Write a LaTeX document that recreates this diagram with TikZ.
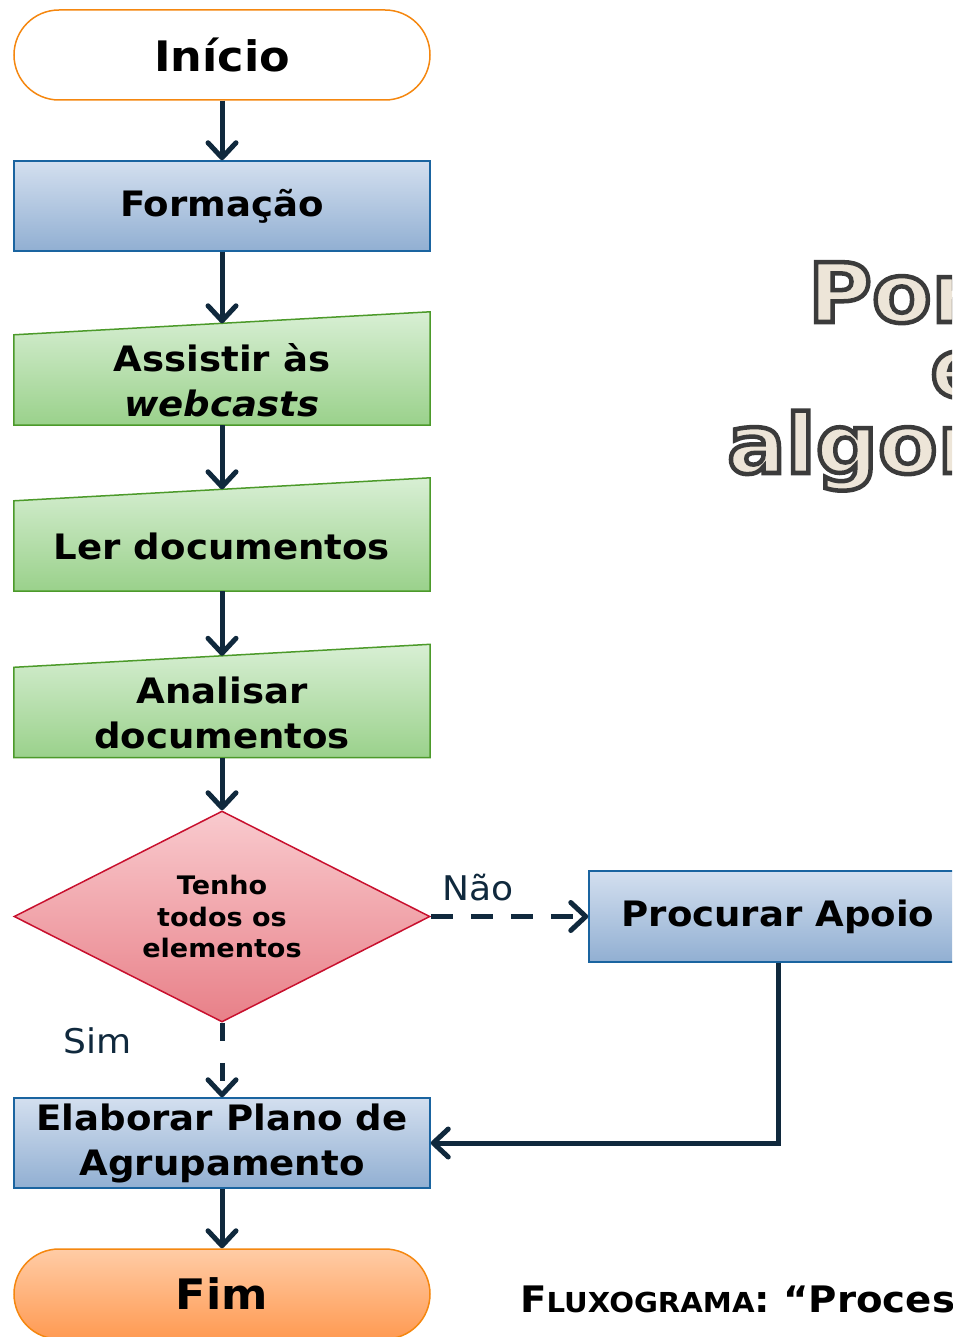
\documentclass[tikz,border=0pt]{standalone}
\usepackage{fontspec}
\setmainfont{DejaVu Sans}[FakeStretch=1.06]
\usetikzlibrary{arrows.meta,positioning,shapes.geometric,backgrounds}

\definecolor{traco}{HTML}{10293D}
\definecolor{azulA}{HTML}{D3DFEF}
\definecolor{azulB}{HTML}{91AFD2}
\definecolor{azulC}{HTML}{1A64A0}
\definecolor{verdeA}{HTML}{D8EFD4}
\definecolor{verdeB}{HTML}{9AD18B}
\definecolor{verdeC}{HTML}{4C9A2A}
\definecolor{rosaA}{HTML}{F9CACE}
\definecolor{rosaB}{HTML}{E88088}
\definecolor{rosaC}{HTML}{C8102E}
\definecolor{laranjaA}{HTML}{FFCCA6}
\definecolor{laranjaB}{HTML}{FF9A52}
\definecolor{laranjaC}{HTML}{F5870F}

% texto com contorno (bege por dentro, cinzento por fora)
\newcommand{\titulo}[1]{\special{pdf:literal direct 2 Tr 4.5 w 0.23 0.23 0.23 RG 0.929 0.898 0.847 rg}#1\special{pdf:literal direct 0 Tr 0.4 w 0 g 0 G}}

\begin{document}
\begin{tikzpicture}[x=1pt,y=-1pt,
    terminal/.style={rectangle,rounded corners=45pt,draw=laranjaC,line width=1.5pt,minimum width=416pt,minimum height=90pt,font=\fontsize{42}{50}\selectfont\bfseries},
    processo/.style={rectangle,draw=azulC,line width=1.5pt,top color=azulA,bottom color=azulB,minimum width=416pt,minimum height=90pt,inner sep=0pt,align=center,font=\fontsize{35}{45}\selectfont\bfseries},
    entrada/.style={rectangle,minimum width=416pt,minimum height=90pt,inner sep=0pt,align=center,font=\fontsize{35}{45}\selectfont\bfseries},
    decisao/.style={diamond,aspect=2,draw=rosaC,line width=1.5pt,top color=rosaA,bottom color=rosaB,minimum width=416pt,minimum height=211pt,inner sep=0pt,align=center,font=\fontsize{25.5}{31.5}\selectfont\bfseries},
    seta/.style={draw=traco,line width=5pt,-{Straight Barb[length=15pt,width=28pt,line cap=round,line join=round]}},
    rotulo/.style={text=traco,font=\fontsize{34}{40}\selectfont}]

    \useasboundingbox (0,0) rectangle (952,1337);
    \clip (0,0) rectangle (952,1337);

    % fluxograma
    \node (inicio) at (222,55) [terminal,fill=white] {Início};
    \node (formacao) at (222,206) [processo] {Formação};
    \node (assistir) at (222,380) [entrada] {Assistir às\\\textit{webcasts}};
    \node (ler) at (222,546) [entrada] {Ler documentos};
    \node (analisar) at (222,712.5) [entrada] {Analisar\\documentos};
    \node (decisao) at (222,916.5) [decisao] {Tenho\\todos os\\elementos};
    \node (procurar) at (778,916.5) [processo,minimum width=378pt,minimum height=91pt] {Procurar Apoio};
    \node (elaborar) at (222,1143) [processo] {Elaborar Plano de\\Agrupamento};
    \node (fim) at (222,1294) [terminal,top color=laranjaA,bottom color=laranjaB] {Fim};

    \begin{scope}[on background layer]
      \foreach \n in {assistir,ler,analisar}{
        \shadedraw[top color=verdeA,bottom color=verdeB,draw=verdeC,line width=1.5pt]
          (\n.south west) -- (\n.south east) -- ([yshift=23pt]\n.north east) -- (\n.north west) -- cycle;
      }
    \end{scope}

    \foreach \n in {assistir,ler,analisar}
      \coordinate (\n-topo) at ([yshift=11.5pt]\n.north);

    \draw[seta] (inicio) -- (formacao);
    \draw[seta] (formacao) -- (assistir-topo);
    \draw[seta] (assistir) -- (ler-topo);
    \draw[seta] (ler) -- (analisar-topo);
    \draw[seta] (analisar) -- (decisao);
    \draw[seta,dash pattern=on 22pt off 18pt] (decisao.east) -- (procurar.west)
      node[rotulo,pos=0.3,above=10pt]{Não};
    \draw[seta,dash pattern=on 18pt off 22pt] (decisao.south) -- (elaborar.north)
      node[rotulo,pos=0.24,left=85pt]{Sim};
    \draw[seta] (procurar.south) |- (elaborar.east);
    \draw[seta] (elaborar) -- (fim);

    % titulo
    \node (tit1) at (808,322) [anchor=base west,inner sep=0pt,font=\fontsize{82}{90}\selectfont\bfseries] {\titulo{Por}};
    \node (tit2) at (930,397) [anchor=base west,inner sep=0pt,font=\fontsize{82}{90}\selectfont\bfseries] {\titulo{e}};
    \node (tit3) at (727,473) [anchor=base west,inner sep=0pt,font=\fontsize{82}{90}\selectfont\bfseries] {\titulo{algor}};

    % legenda
    \node (legenda) at (520,1312) [anchor=base west,inner sep=0pt,font=\fontsize{36.5}{40}\selectfont\bfseries]
      {F{\fontsize{27.5}{30}\selectfont LUXOGRAMA}: “Process};
\end{tikzpicture}
\end{document}
